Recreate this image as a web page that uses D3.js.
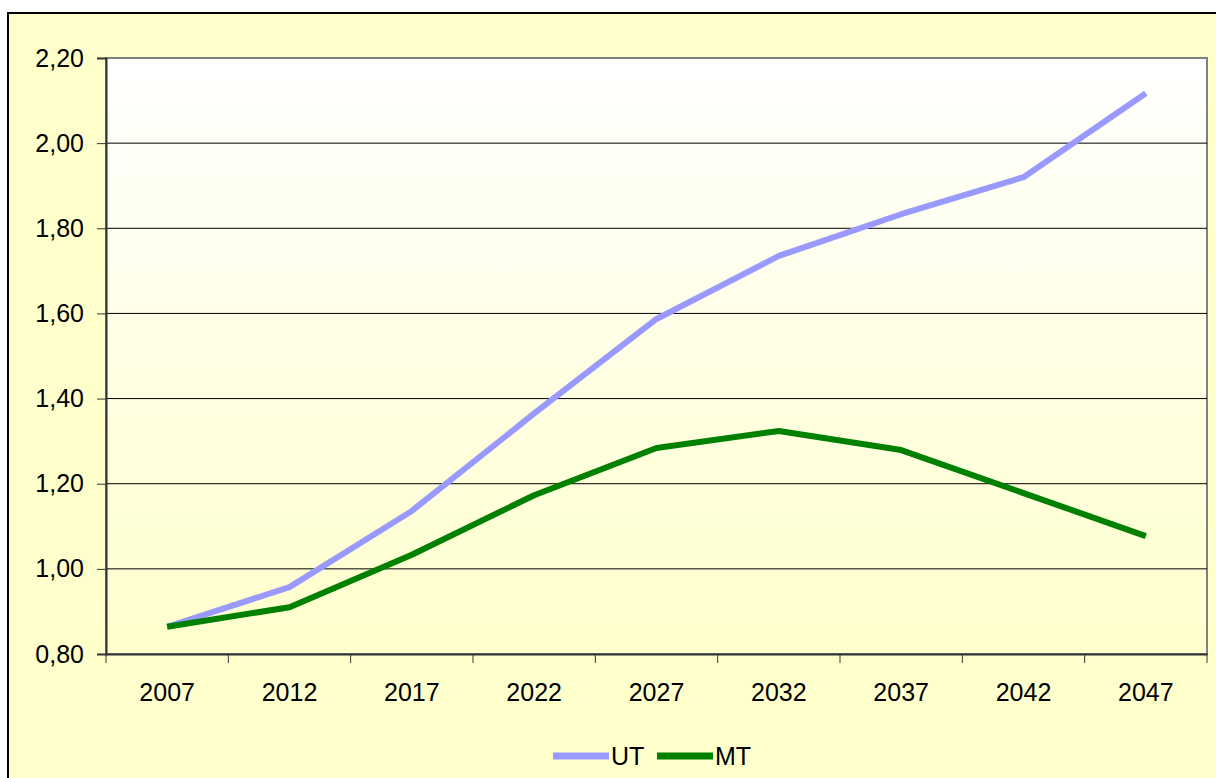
<!DOCTYPE html>
<html lang="en">
<head>
    <meta charset="utf-8">
    <script src="https://cdn.jsdelivr.net/npm/d3@7"></script>
    <style>
        body { margin: 0; background: #fff; }
        text { font-family: Arial, "Liberation Sans", sans-serif; fill: #000; }
    </style>
</head>
<body>
<div id="chart"></div>
<script type="text/javascript">
    var years = ["2007", "2012", "2017", "2022", "2027", "2032", "2037", "2042", "2047"];
    var utValues = [0.864, 0.957, 1.136, 1.365, 1.587, 1.735, 1.833, 1.920, 2.117];
    var mtValues = [0.864, 0.910, 1.033, 1.173, 1.284, 1.324, 1.279, 1.178, 1.077];
    var yTicks = [0.8, 1.0, 1.2, 1.4, 1.6, 1.8, 2.0, 2.2];
    var seriesNames = ["UT", "MT"];
    var seriesColors = ["#9999FF", "#008000"];

    var W = 1216, H = 778;
    var plot = {left: 106, top: 58, right: 1207, bottom: 654};
    var fontSize = "25px";

    var svg = d3.select("#chart").append("svg")
        .attr("width", W)
        .attr("height", H);

    var defs = svg.append("defs");
    var grad = defs.append("linearGradient")
        .attr("id", "plotbg")
        .attr("x1", 0).attr("y1", 0).attr("x2", 0).attr("y2", 1);
    grad.append("stop").attr("offset", "0%").attr("stop-color", "#FFFFFF");
    grad.append("stop").attr("offset", "100%").attr("stop-color", "#FFFFCC");

    // outer chart area
    svg.append("rect")
        .attr("x", 8).attr("y", 13)
        .attr("width", W + 20).attr("height", H + 20)
        .attr("fill", "#FFFFCC")
        .attr("stroke", "#000")
        .attr("stroke-width", 2);

    var x = d3.scaleBand()
        .domain(years)
        .range([plot.left, plot.right]);

    var y = d3.scaleLinear()
        .domain([0.8, 2.2])
        .range([plot.bottom, plot.top]);

    // plot area
    svg.append("rect")
        .attr("x", plot.left).attr("y", plot.top)
        .attr("width", plot.right - plot.left)
        .attr("height", plot.bottom - plot.top)
        .attr("fill", "url(#plotbg)")
        .attr("stroke", "#808080")
        .attr("stroke-width", 2);

    // gridlines
    svg.append("g")
        .selectAll("line")
        .data(yTicks.slice(1, -1))
        .enter().append("line")
        .attr("x1", plot.left).attr("x2", plot.right)
        .attr("y1", function(d) { return y(d); })
        .attr("y2", function(d) { return y(d); })
        .attr("stroke", "#000")
        .attr("stroke-width", 1);

    // y axis
    var yAxis = d3.axisLeft(y)
        .tickValues(yTicks)
        .tickSize(9)
        .tickPadding(13)
        .tickFormat(function(d) { return d3.format(".2f")(d).replace(".", ","); });

    var gy = svg.append("g")
        .attr("transform", "translate(" + plot.left + ",0)")
        .call(yAxis);
    gy.select(".domain").attr("stroke", "#333").attr("stroke-width", 2);
    gy.selectAll(".tick line").attr("stroke", "#333");
    gy.selectAll("text").style("font-size", fontSize).attr("font-family", null);

    // x axis
    var xAxis = d3.axisBottom(x)
        .tickSize(0)
        .tickPadding(29);

    var gx = svg.append("g")
        .attr("transform", "translate(0," + plot.bottom + ")")
        .call(xAxis);
    gx.select(".domain").attr("stroke", "#333").attr("stroke-width", 2);
    gx.selectAll("text").style("font-size", fontSize).attr("font-family", null);

    // x ticks at category boundaries
    gx.selectAll(".bound")
        .data(years.concat(["end"]))
        .enter().append("line")
        .attr("class", "bound")
        .attr("x1", function(d, i) { return plot.left + i * x.step(); })
        .attr("x2", function(d, i) { return plot.left + i * x.step(); })
        .attr("y1", 0).attr("y2", 9)
        .attr("stroke", "#333");

    var line = d3.line()
        .x(function(d, i) { return x(years[i]) + x.bandwidth() / 2; })
        .y(function(d) { return y(d); });

    [utValues, mtValues].forEach(function(vals, k) {
        svg.append("path")
            .datum(vals)
            .attr("d", line)
            .attr("fill", "none")
            .attr("stroke", seriesColors[k])
            .attr("stroke-width", 6)
            .attr("stroke-linejoin", "round");
    });

    // legend
    var legend = svg.append("g").attr("transform", "translate(553,756)");
    var legendX = [0, 104];
    seriesNames.forEach(function(name, k) {
        legend.append("line")
            .attr("x1", legendX[k]).attr("x2", legendX[k] + 56)
            .attr("y1", 0).attr("y2", 0)
            .attr("stroke", seriesColors[k])
            .attr("stroke-width", 7);
        legend.append("text")
            .attr("x", legendX[k] + 58)
            .attr("y", 9)
            .style("font-size", fontSize)
            .text(name);
    });
</script>
</body>
</html>
